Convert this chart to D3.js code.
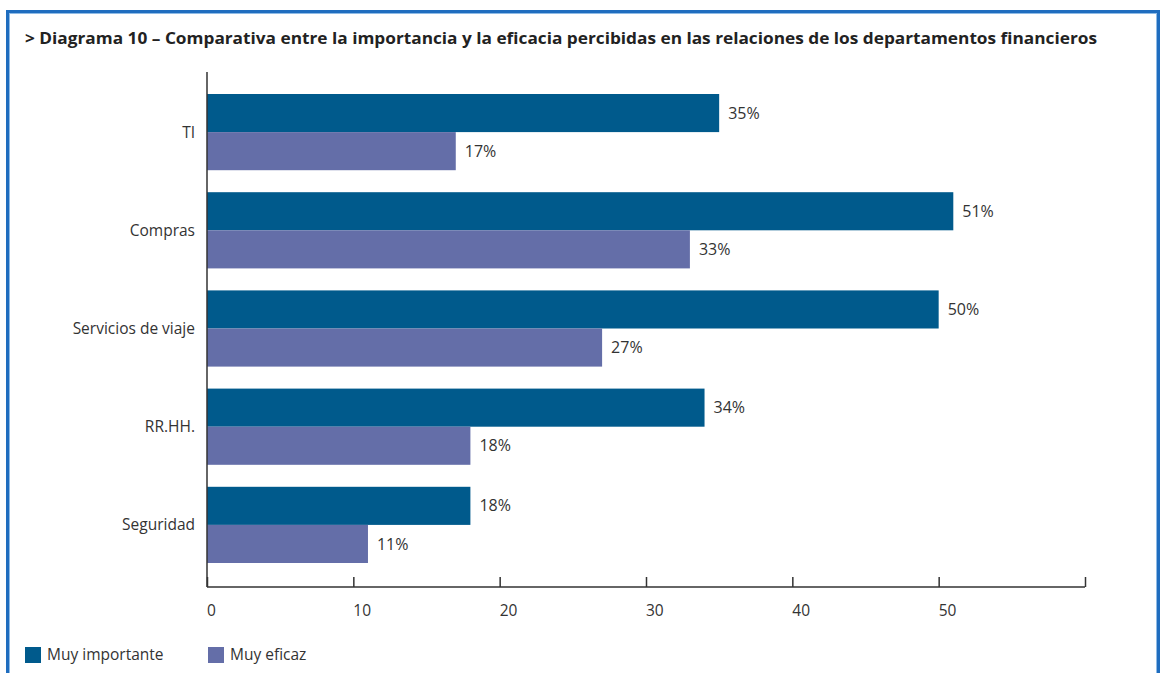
<!DOCTYPE html>
<html>
<head>
<meta charset="utf-8">
<script src="https://cdn.jsdelivr.net/npm/d3@7"></script>
<style>
  body { margin: 0; background: #fff; }
  svg text { font-family: 'Open Sans', 'Noto Sans', sans-serif; fill: #333; }
</style>
</head>
<body>
<svg id="chart" width="1163" height="673"></svg>
<script>
// data
const categories = ['TI', 'Compras', 'Servicios de viaje', 'RR.HH.', 'Seguridad']
const seriesNames = ['Muy importante', 'Muy eficaz']
const importante = [35, 51, 50, 34, 18]
const eficaz = [17, 33, 27, 18, 11]
const xTicks = [0, 10, 20, 30, 40, 50, 60]
const colors = ['#005a8c', '#646ea8']

const title = '> Diagrama 10 \u2013 Comparativa entre la importancia y la eficacia percibidas en las relaciones de los departamentos financieros'

const svg = d3.select('#chart')

// frame
svg.append('rect')
  .attr('x', 7.5).attr('y', 11.5)
  .attr('width', 1151).attr('height', 700)
  .attr('fill', 'none')
  .attr('stroke', '#1f6dbf')
  .attr('stroke-width', 3)
svg.append('rect')
  .attr('x', 9.5).attr('y', 13.5)
  .attr('width', 1147).attr('height', 700)
  .attr('fill', 'none')
  .attr('stroke', '#8fbbe6')
  .attr('stroke-width', 1)

svg.append('text')
  .attr('x', 25).attr('y', 44)
  .attr('font-size', 16.5)
  .attr('font-weight', 'bold')
  .attr('textLength', 1072)
  .attr('lengthAdjust', 'spacingAndGlyphs')
  .style('fill', '#222')
  .text(title)

const x = d3.scaleLinear().domain([0, 60]).range([207, 1085])
const y = d3.scaleBand().domain(categories).range([83, 574])
  .paddingInner(0.224).paddingOuter(0.112)
const ySub = d3.scaleBand().domain(seriesNames).range([0, y.bandwidth()])

const rows = categories.map(function (c, i) {
  return { cat: c, values: [importante[i], eficaz[i]] }
})

const g = svg.append('g')
const groups = g.selectAll('g.grp').data(rows).enter().append('g')
  .attr('class', 'grp')
  .attr('transform', d => 'translate(0,' + y(d.cat) + ')')

groups.selectAll('rect').data(d => d.values.map((v, k) => ({ v: v, s: seriesNames[k], k: k })))
  .enter().append('rect')
  .attr('x', x(0))
  .attr('y', d => ySub(d.s))
  .attr('width', d => x(d.v) - x(0))
  .attr('height', ySub.bandwidth())
  .attr('fill', d => colors[d.k])

groups.selectAll('text.val').data(d => d.values.map((v, k) => ({ v: v, s: seriesNames[k] })))
  .enter().append('text')
  .attr('class', 'val')
  .attr('x', d => x(d.v) + 9)
  .attr('y', d => ySub(d.s) + ySub.bandwidth() / 2)
  .attr('dy', '0.35em')
  .attr('font-size', 16)
  .text(d => d.v + '%')

// category labels
groups.append('text')
  .attr('x', 195)
  .attr('y', y.bandwidth() / 2)
  .attr('dy', '0.35em')
  .attr('text-anchor', 'end')
  .attr('font-size', 15.5)
  .text(d => d.cat)

// y axis line
svg.append('line')
  .attr('x1', x(0)).attr('x2', x(0))
  .attr('y1', 72).attr('y2', 587)
  .attr('stroke', '#333').attr('stroke-width', 1.5)

// x axis
const xAxis = svg.append('g')
  .attr('transform', 'translate(0,587)')
  .call(d3.axisTop(x).tickValues(xTicks).tickSize(10).tickFormat(''))
xAxis.select('.domain').attr('stroke', '#333').attr('stroke-width', 1.5).attr('d', 'M' + x(0) + ',0H' + x(60))
xAxis.selectAll('.tick line').attr('stroke', '#333').attr('stroke-width', 1.5)

svg.append('g').selectAll('text').data(xTicks.slice(0, 6)).enter().append('text')
  .attr('x', d => x(d))
  .attr('y', 616)
  .attr('font-size', 15.5)
  .text(d => d)

// legend
const legX = [25, 208]
const leg = svg.append('g').selectAll('g').data(seriesNames).enter().append('g')
  .attr('transform', (d, i) => 'translate(' + legX[i] + ',647)')
leg.append('rect').attr('width', 16).attr('height', 16).attr('fill', (d, i) => colors[i])
leg.append('text').attr('x', 22).attr('y', 8).attr('dy', '0.35em').attr('font-size', 15.5).text(d => d)
</script>
</body>
</html>
